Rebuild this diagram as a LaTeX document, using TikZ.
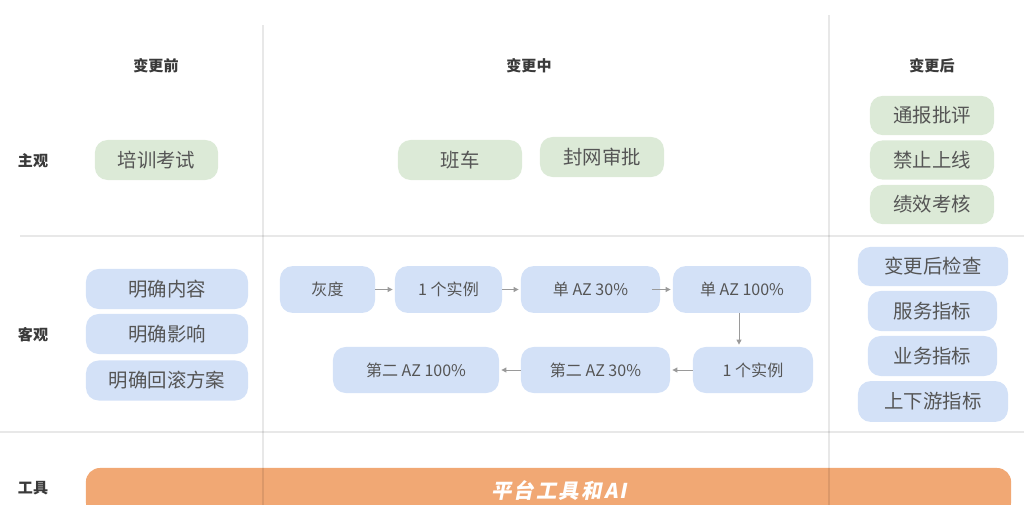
\documentclass[tikz,border=0pt]{standalone}
\usepackage{fontspec}
\setmainfont{Noto Sans CJK SC}
\newfontfamily\barfont{Noto Sans CJK SC}[FakeSlant=0.2,LetterSpace=11]
\usetikzlibrary{arrows.meta}
\definecolor{greenbox}{HTML}{DCEAD7}
\definecolor{bluebox}{HTML}{D3E1F7}
\definecolor{orangebar}{HTML}{F1A874}
\definecolor{textgray}{HTML}{555555}
\definecolor{headgray}{HTML}{3A3A3A}
\definecolor{arrowgray}{HTML}{9A9A9A}
\tikzset{
  head/.style={font=\fontsize{10.7}{12}\selectfont\bfseries, text=headgray},
  gbox/.style={fill=greenbox, rounded corners=9pt, minimum height=1cm, text=textgray, font=\fontsize{13.8}{16}\selectfont},
  bbox/.style={fill=bluebox, rounded corners=9pt, minimum height=1cm, text=textgray, font=\fontsize{13.8}{16}\selectfont},
  fbox/.style={fill=bluebox, rounded corners=9pt, minimum height=1.17cm, text=textgray, font=\fontsize{11.4}{13}\selectfont},
  flow/.style={draw=arrowgray, line width=0.7pt, -{Triangle[length=3.5pt,width=3.5pt]}, shorten <=0pt, shorten >=1.5pt},
  grid/.style={draw=black, draw opacity=0.09, line width=0.9pt}
}

\begin{document}
\begin{tikzpicture}[x=0.025cm,y=-0.025cm]
	\useasboundingbox (0,0) rectangle (1024,505);
	\clip (0,0) rectangle (1024,505);
	% column and row titles
	\node[head] (before) at (156,66) {变更前};
	\node[head] (during) at (529,66) {变更中};
	\node[head] (after) at (932,66) {变更后};
	\node[head] (subj) at (33,161) {主观};
	\node[head] (obj) at (33,335) {客观};
	\node[head] (tool) at (33,488) {工具};
	% subjective row
	\node[gbox, minimum width=3.08cm] (train) at (156.5,160) {培训考试};
	\node[gbox, minimum width=3.1cm] (shuttle) at (460,160) {班车};
	\node[gbox, minimum width=3.1cm] (freeze) at (602,157) {封网审批};
	\node[gbox, minimum width=3.1cm, minimum height=0.98cm] (notice) at (932,115.5) {通报批评};
	\node[gbox, minimum width=3.1cm, minimum height=0.98cm] (ban) at (932,160) {禁止上线};
	\node[gbox, minimum width=3.1cm, minimum height=0.98cm] (perf) at (932,204.5) {绩效考核};
	% objective row
	\node[bbox, minimum width=4.05cm] (content) at (167,289) {明确内容};
	\node[bbox, minimum width=4.05cm] (impact) at (167,334) {明确影响};
	\node[bbox, minimum width=4.05cm] (rollback) at (167,380.5) {明确回滚方案};
	\node[fbox, minimum width=2.375cm] (gray) at (327.5,289.5) {灰度};
	\node[fbox, minimum width=2.675cm] (inst1) at (448.5,289.5) {1 个实例};
	\node[fbox, minimum width=3.475cm] (az30) at (590.5,289.5) {单 AZ 30\%};
	\node[fbox, minimum width=3.45cm] (az100) at (742,289.5) {单 AZ 100\%};
	\node[fbox, minimum width=3cm, minimum height=1.15cm] (inst2) at (753,370) {1 个实例};
	\node[fbox, minimum width=3.725cm, minimum height=1.15cm] (sec30) at (595.5,370) {第二 AZ 30\%};
	\node[fbox, minimum width=4.15cm, minimum height=1.15cm] (sec100) at (416,370) {第二 AZ 100\%};
	\node[bbox, minimum width=3.75cm, minimum height=0.98cm] (check) at (933,266.5) {变更后检查};
	\node[bbox, minimum width=3.225cm] (svc) at (932.5,311) {服务指标};
	\node[bbox, minimum width=3.225cm] (biz) at (932.5,356) {业务指标};
	\node[bbox, minimum width=3.75cm, minimum height=1.02cm] (updown) at (933,401.5) {上下游指标};
	\coordinate (down) at (739,0);
	\draw[flow] (gray) -- (inst1);
	\draw[flow] (inst1) -- (az30);
	\draw[flow, shorten <=-6pt] (az30) -- (az100);
	\draw[flow] (az100.south -| down) -- (inst2.north -| down);
	\draw[flow] (inst2) -- (sec30);
	\draw[flow] (sec30) -- (sec100);
	% tools row
	\node[fill=orangebar, rounded corners=10pt, minimum width=23.125cm, minimum height=1.2cm] (tools) at (548.5,492) {};
	\node[text=white, font=\barfont\fontsize{14.5}{16}\selectfont\bfseries] (toolname) at (559,491) {平台工具和AI};
	% grid lines
	\draw[grid] (263,25) -- (263,505) (829,15) -- (829,505);
	\draw[grid] (20,236) -- (1024,236) (0,432) -- (1024,432);
\end{tikzpicture}
\end{document}
